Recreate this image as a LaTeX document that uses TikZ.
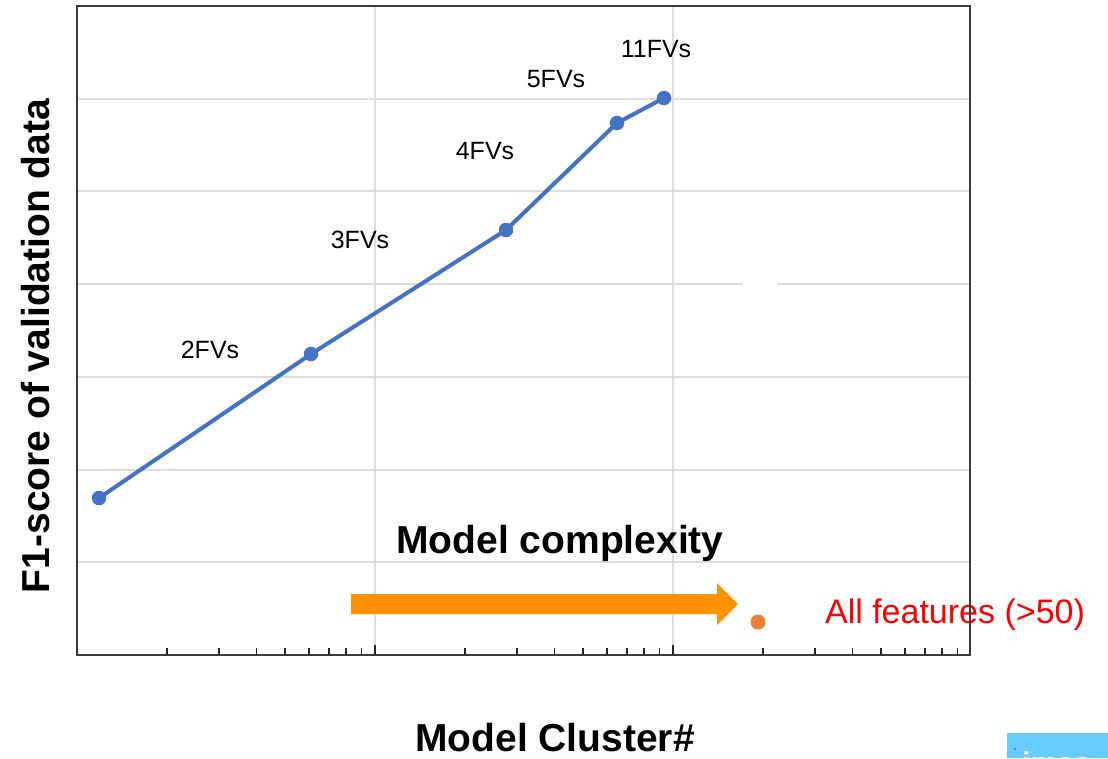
\documentclass[tikz,border=0pt]{standalone}
\usepackage{fontspec}
\setmainfont{Liberation Sans}
\definecolor{gridc}{HTML}{DCDCDC}
\definecolor{framec}{HTML}{3A3A3A}
\definecolor{linec}{HTML}{4472C4}
\definecolor{arrowc}{HTML}{FF9200}
\definecolor{dotc}{HTML}{E8803A}
\definecolor{logoc}{HTML}{66CCFF}
\begin{document}
\begin{tikzpicture}[x=1pt,y=-1pt,
  gridline/.style={draw=gridc, line width=2pt},
  axisframe/.style={draw=framec, line width=2.5pt},
  tickmark/.style={draw=black!85, line width=1.6pt},
  datapt/.style={circle, fill=linec, inner sep=0pt, minimum size=14.5pt},
  fvlabel/.style={font=\fontsize{25}{30}\selectfont, anchor=base, inner sep=0pt},
  biglabel/.style={font=\fontsize{39}{47}\selectfont\bfseries, anchor=base, inner sep=0pt},
  redlabel/.style={font=\fontsize{34}{41}\selectfont, text=red, anchor=base, inner sep=0pt}]
\useasboundingbox (0,0) rectangle (1108,758);
\fill[white] (0,0) rectangle (1108,758);
% grid
\foreach \k in {1,...,6} {
  \draw[gridline] (77,{6+92.7*\k}) -- (970,{6+92.7*\k});
}
\draw[gridline] (375,6) -- (375,655);
\draw[gridline] (673,6) -- (673,655);
\fill[white] (743,283) rectangle (777,286.5);
% red label (under frame)
\node[redlabel] (allf) at (955,623) {All features (>50)};
% frame
\draw[axisframe] (77,6) rectangle (970,655);
% ticks
\foreach \d in {0,1,2} {
  \foreach \m in {2,...,9} {
    \draw[tickmark] ({77+298*(\d+ln(\m)/ln(10))},655) -- ++(0,-7);
  }
}
\draw[tickmark] (375,655) -- ++(0,-10);
\draw[tickmark] (673,655) -- ++(0,-10);
% data
\node[datapt] (p1) at (99,498) {};
\node[datapt] (p2) at (311,354) {};
\node[datapt] (p3) at (506,230) {};
\node[datapt] (p4) at (617,123) {};
\node[datapt] (p5) at (664,98) {};
\draw[linec, line width=4pt, line join=round] (p1.center) -- (p2.center) -- (p3.center) -- (p4.center) -- (p5.center);
% labels
\node[fvlabel] (l11) at (656,57) {11FVs};
\node[fvlabel] (l5) at (556,87) {5FVs};
\node[fvlabel] (l4) at (485,159) {4FVs};
\node[fvlabel] (l3) at (360,248) {3FVs};
\node[fvlabel] (l2) at (210,358) {2FVs};
% complexity arrow
\node[biglabel] (mc) at (560,553) {Model complexity};
\fill[arrowc] (351,594) -- (717,594) -- (717,583) -- (738,604) -- (717,625) -- (717,614) -- (351,614) -- cycle;
\node[circle, fill=dotc, inner sep=0pt, minimum size=15pt] (allpt) at (758,622) {};
% axis labels
\node[biglabel, anchor=base, rotate=90] (ylab) at (49,346) {F1-score of validation data};
\node[biglabel] (xlab) at (555,751) {Model Cluster\#};
% logo
\fill[logoc] (1007,733) rectangle (1108,758);
\fill[black!50] (1015,749) circle (1.3pt);
\node[font=\fontsize{30}{36}\selectfont\bfseries, text=white, anchor=north west, inner sep=0pt] (logo) at (1022,752) {imec};
\end{tikzpicture}
\end{document}
